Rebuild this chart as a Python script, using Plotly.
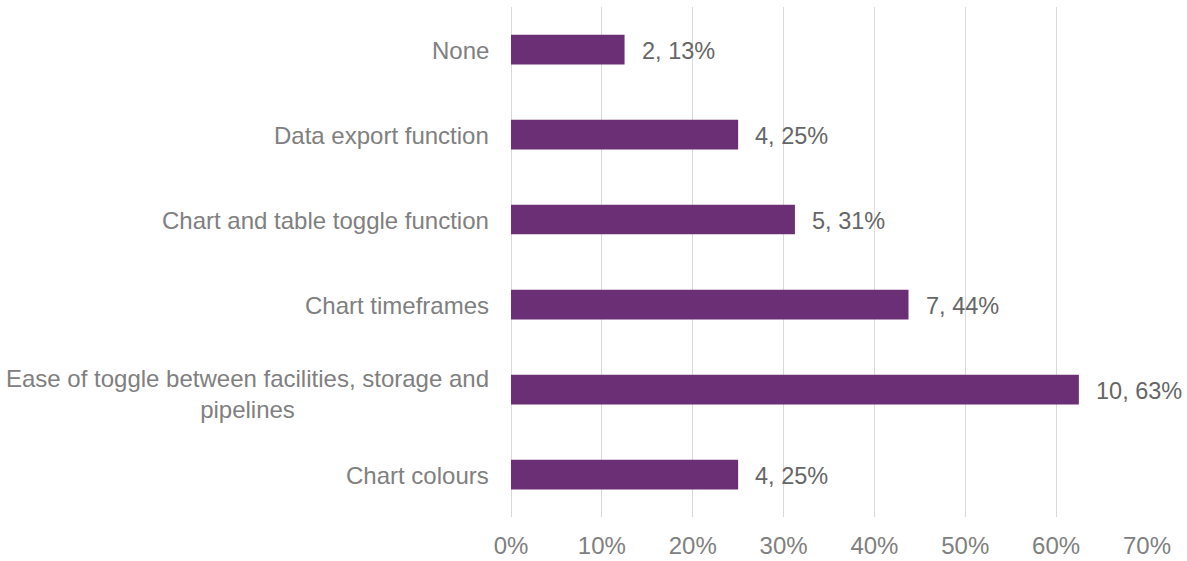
import plotly.graph_objects as go

categories = [
    "Chart colours",
    "Ease of toggle between facilities, storage and<br>pipelines",
    "Chart timeframes",
    "Chart and table toggle function",
    "Data export function",
    "None",
]
counts = [4, 10, 7, 5, 4, 2]
shares = [0.25, 0.625, 0.4375, 0.3125, 0.25, 0.125]
share_labels = ["25%", "63%", "44%", "31%", "25%", "13%"]
x_ticks = [0, 0.1, 0.2, 0.3, 0.4, 0.5, 0.6, 0.7]
x_tick_text = ["0%", "10%", "20%", "30%", "40%", "50%", "60%", "70%"]

FONT = "Liberation Sans, Arial, sans-serif"
FS = 24
BAR = "#6B2F76"
GREY = "#808080"
DARK = "#666666"

fig = go.Figure()
fig.add_trace(go.Bar(
    y=categories, x=shares, orientation="h",
    marker=dict(color=BAR, line=dict(width=0)),
    width=0.35, hoverinfo="skip",
))

annotations = []
for cat, v, c, lab in zip(categories, shares, counts, share_labels):
    annotations.append(dict(
        x=v, y=cat, xref="x", yref="y", text=f"{c}, {lab}",
        showarrow=False, xanchor="left", xshift=15, yshift=-1,
        font=dict(family=FONT, size=23.5, color=DARK),
    ))
    annotations.append(dict(
        x=0, y=cat, xref="paper", yref="y", text=cat,
        showarrow=False, xanchor="right", xshift=-20,
        yshift=-4 if "<br>" in cat else -1, align="center",
        font=dict(family=FONT, size=FS, color=GREY),
    ))

fig.update_layout(
    width=1187, height=561,
    margin=dict(l=511, r=40, t=7, b=44),
    paper_bgcolor="white", plot_bgcolor="white",
    showlegend=False,
    annotations=annotations,
    xaxis=dict(
        range=[0, 0.7], tickvals=x_ticks, ticktext=x_tick_text,
        automargin=False,
        showgrid=True, gridcolor="#d9d9d9", gridwidth=1,
        zeroline=True, zerolinecolor="#d9d9d9", zerolinewidth=1,
        showline=False, ticks="outside", ticklen=7, tickcolor="rgba(0,0,0,0)",
        tickfont=dict(family=FONT, size=FS, color=GREY), fixedrange=True,
    ),
    yaxis=dict(
        categoryorder="array", categoryarray=categories,
        range=[-0.5, 5.5], showticklabels=False, showgrid=False,
        automargin=False, fixedrange=True,
        zeroline=False, showline=False, ticks="",
    ),
)

fig.write_html(
    "out.html",
    config={"displayModeBar": False, "staticPlot": True},
    post_script="document.body.style.margin='0';",
)
